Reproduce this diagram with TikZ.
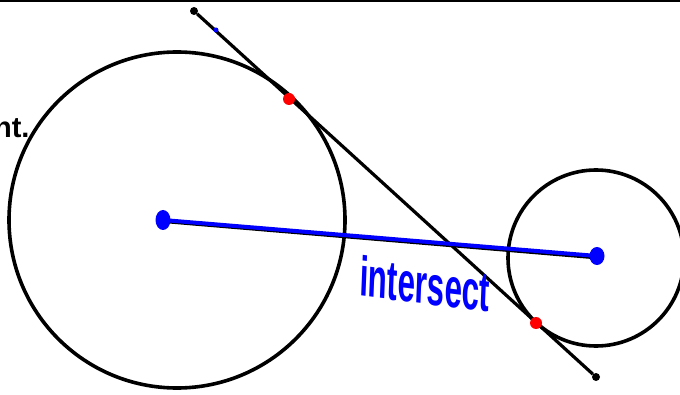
\documentclass[tikz,border=0pt]{standalone}
\usepackage{fontspec}
\setmainfont{Liberation Sans}
\usetikzlibrary{shapes.geometric}

\begin{document}
\begin{tikzpicture}[x=1pt,y=1pt,
	dot/.style={circle,fill,inner sep=0pt,minimum size=#1},
	blob/.style={ellipse,fill=blue,inner sep=0pt,minimum width=15pt,minimum height=20pt},
	rim/.style={line width=3.6pt}]
	\useasboundingbox (0,0) rectangle (680,394);
	% top rule
	\draw[line width=2.7pt] (0,393) -- (680,393);
	% circles
	\coordinate (bigC) at (177,174);
	\coordinate (smallC) at (596,136);
	\draw[rim] (bigC) circle (168);
	\draw[rim] (smallC) circle (88);
	% common tangent
	\node[dot=8pt] (endA) at (194,383) {};
	\node[dot=8pt] (endB) at (596,17) {};
	\draw[line width=3.2pt] (endA) -- (endB);
	\node[dot=5pt,fill=blue] (mark) at (216,364) {};
	\node[dot=12pt,fill=red] (touchA) at (289,295) {};
	\node[dot=12pt,fill=red] (touchB) at (536,71) {};
	% line of centres
	\coordinate (lowA) at (163,172.5);
	\coordinate (lowB) at (592,136.5);
	\draw[line width=3pt] (lowA) -- (lowB);
	\node[blob] (blobA) at (163,174) {};
	\node[blob,minimum height=18pt] (blobB) at (597,138) {};
	\draw[blue,line width=4pt] (blobA.center) -- (blobB.center);
	% Labels
	\node[anchor=base east,font=\fontsize{29}{29}\selectfont\bfseries] (word) at (33,256) {nt.};
	\node[blue,font=\fontsize{56}{56}\selectfont\bfseries,xscale=0.56,rotate=-4] (note) at (425,110) {intersect};
\end{tikzpicture}
\end{document}
